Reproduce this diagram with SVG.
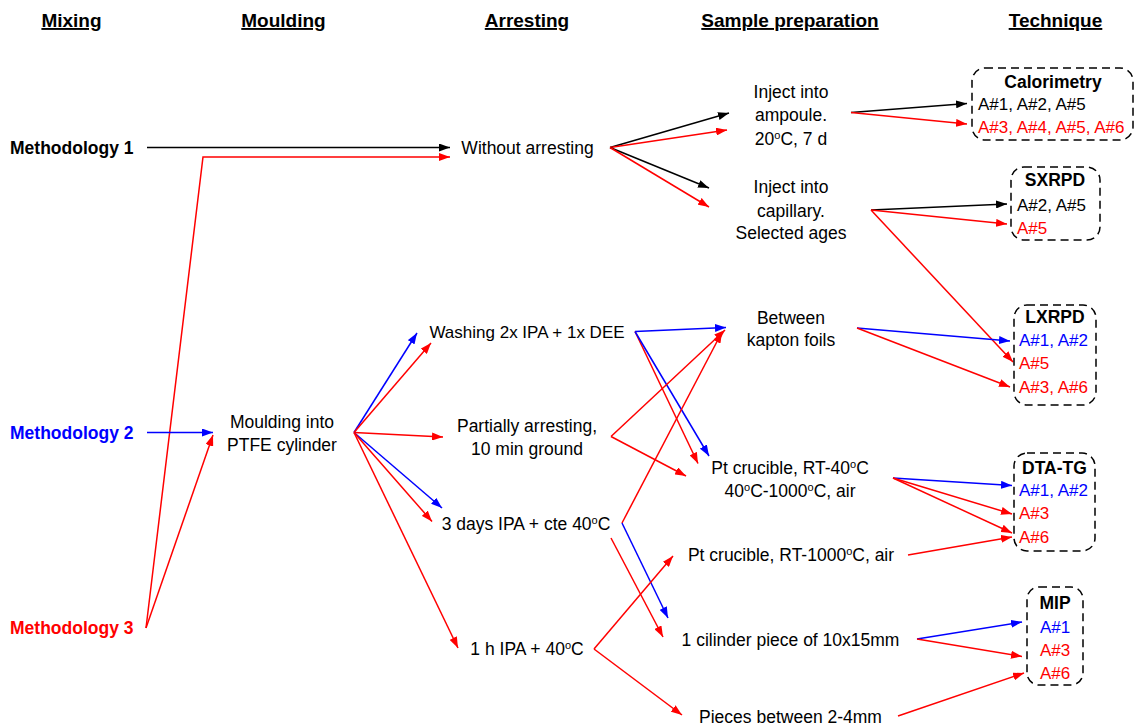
<svg xmlns="http://www.w3.org/2000/svg" width="1135" height="727" viewBox="0 0 1135 727">
<style>
text{font-family:"Liberation Sans",Arial,sans-serif;font-size:17.5px;fill:#000}
.h{font-weight:bold;font-size:19px;text-decoration:underline;text-anchor:middle}
.b{font-weight:bold}
.c{text-anchor:middle}
.r{fill:#FF0000}
.u{fill:#0000FF}
.t{font-size:17px}
.box{fill:none;stroke:#000;stroke-width:1.5;stroke-dasharray:8 5}
.k{stroke:#000;stroke-width:1.5;fill:none;marker-end:url(#ak)}
.rl{stroke:#FF0000;stroke-width:1.5;fill:none;marker-end:url(#ar)}
.bl{stroke:#0000FF;stroke-width:1.5;fill:none;marker-end:url(#ab)}
</style>
<defs>
<marker id="ak" viewBox="0 0 11 8" refX="11" refY="4" markerWidth="11" markerHeight="8" markerUnits="userSpaceOnUse" orient="auto"><path d="M0,0L11,4L0,8z" fill="#000"/></marker>
<marker id="ar" viewBox="0 0 11 8" refX="11" refY="4" markerWidth="11" markerHeight="8" markerUnits="userSpaceOnUse" orient="auto"><path d="M0,0L11,4L0,8z" fill="#FF0000"/></marker>
<marker id="ab" viewBox="0 0 11 8" refX="11" refY="4" markerWidth="11" markerHeight="8" markerUnits="userSpaceOnUse" orient="auto"><path d="M0,0L11,4L0,8z" fill="#0000FF"/></marker>
</defs>
<rect width="1135" height="727" fill="#fff"/>
<g id="headers">
<text class="h" x="71.5" y="27">Mixing</text>
<text class="h" x="283.5" y="27">Moulding</text>
<text class="h" x="527" y="27">Arresting</text>
<text class="h" x="790" y="27">Sample preparation</text>
<text class="h" x="1055.5" y="27">Technique</text>
</g>
<g id="connectors">
<path class="k" d="M147,147.5L450,147.5"/>
<path class="rl" d="M146,628L203,157L450,157"/>
<path class="bl" d="M147,432.5L213,432.5"/>
<path class="rl" d="M146,628L213,435"/>
<path class="bl" d="M354,432.5L417,333"/>
<path class="rl" d="M354,432.5L431,343"/>
<path class="rl" d="M354,432.5L443,437"/>
<path class="bl" d="M354,432.5L442,508"/>
<path class="rl" d="M354,432.5L432,521.5"/>
<path class="rl" d="M354,432.5L458,648"/>
<path class="k" d="M610,147.5L729,113"/>
<path class="rl" d="M610,147.5L727,130"/>
<path class="k" d="M610,147.5L709,188"/>
<path class="rl" d="M610,147.5L709,207"/>
<path class="bl" d="M635,331.5L726,327.5"/>
<path class="rl" d="M635,331.5L698,463.5"/>
<path class="bl" d="M635,331.5L709,456"/>
<path class="rl" d="M611,436.5L725,330"/>
<path class="rl" d="M611,436.5L686,476"/>
<path class="rl" d="M622,523L722,332"/>
<path class="bl" d="M622,523L668,618"/>
<path class="rl" d="M611,538L663,637"/>
<path class="rl" d="M594,649L673,556"/>
<path class="rl" d="M594,649L682,715"/>
<path class="k" d="M851,112.5L967,103.5"/>
<path class="rl" d="M851,112.5L967,124"/>
<path class="k" d="M871,210L1007,204"/>
<path class="rl" d="M871,210L1007,224"/>
<path class="rl" d="M871,210L1013,362"/>
<path class="bl" d="M857,328L1010,341"/>
<path class="rl" d="M857,328L1010,387"/>
<path class="bl" d="M893,478L1012,485.5"/>
<path class="rl" d="M893,478L1012,514"/>
<path class="rl" d="M893,478L1012,533"/>
<path class="rl" d="M908,555L1012,537"/>
<path class="bl" d="M917,639L1022,622"/>
<path class="rl" d="M917,639L1022,656.5"/>
<path class="rl" d="M898,716L1024,673"/>
</g>
<g id="methodology1"><text class="b" x="10" y="154">Methodology 1</text></g>
<g id="methodology2"><text class="b u" x="10" y="439">Methodology 2</text></g>
<g id="methodology3"><text class="b r" x="10" y="634">Methodology 3</text></g>
<g id="moulding"><text class="c" x="282" y="428">Moulding into</text><text class="c" x="282" y="451">PTFE cylinder</text></g>
<g id="without"><text class="c" x="527.5" y="154">Without arresting</text></g>
<g id="washing"><text class="c t" x="527" y="338">Washing 2x IPA + 1x DEE</text></g>
<g id="partially"><text class="c" x="527" y="432">Partially arresting,</text><text class="c" x="527" y="455">10 min ground</text></g>
<g id="threedays"><text class="c" x="526" y="529.5">3 days IPA + cte 40<tspan font-size="11" baseline-shift="super">o</tspan>C</text></g>
<g id="onehour"><text class="c" x="527" y="655">1 h IPA + 40<tspan font-size="11" baseline-shift="super">o</tspan>C</text></g>
<g id="ampoule"><text class="c" x="791" y="97.5">Inject into</text><text class="c" x="791" y="121">ampoule.</text><text class="c" x="791" y="144.5">20<tspan font-size="11" baseline-shift="super">o</tspan>C, 7 d</text></g>
<g id="capillary"><text class="c" x="791" y="193">Inject into</text><text class="c" x="791" y="216.5">capillary.</text><text class="c" x="791" y="239">Selected ages</text></g>
<g id="kapton"><text class="c" x="791" y="324">Between</text><text class="c" x="791" y="346">kapton foils</text></g>
<g id="ptrt40"><text class="c" x="790" y="474">Pt crucible, RT-40<tspan font-size="11" baseline-shift="super">o</tspan>C</text><text class="c" x="790" y="497">40<tspan font-size="11" baseline-shift="super">o</tspan>C-1000<tspan font-size="11" baseline-shift="super">o</tspan>C, air</text></g>
<g id="ptrt1000"><text class="c" x="791" y="561">Pt crucible, RT-1000<tspan font-size="11" baseline-shift="super">o</tspan>C, air</text></g>
<g id="cylinder"><text class="c" x="790.5" y="646">1 cilinder piece of 10x15mm</text></g>
<g id="pieces"><text class="c" x="790.5" y="722.5">Pieces between 2-4mm</text></g>
<g id="calorimetry">
<rect class="box" x="972" y="68" width="161" height="72" rx="13"/>
<text class="b c" x="1053" y="88">Calorimetry</text>
<text class="t" x="978" y="109.5">A#1, A#2, A#5</text>
<text class="r t" x="978" y="132.5">A#3, A#4, A#5, A#6</text>
</g>
<g id="sxrpd">
<rect class="box" x="1011" y="167" width="89" height="73" rx="13"/>
<text class="b c" x="1055" y="186">SXRPD</text>
<text class="t" x="1017" y="211">A#2, A#5</text>
<text class="r t" x="1017" y="234">A#5</text>
</g>
<g id="lxrpd">
<rect class="box" x="1014" y="305" width="82" height="100" rx="13"/>
<text class="b c" x="1055" y="323">LXRPD</text>
<text class="u t" x="1019" y="346">A#1, A#2</text>
<text class="r t" x="1019" y="369">A#5</text>
<text class="r t" x="1019" y="392.5">A#3, A#6</text>
</g>
<g id="dtatg">
<rect class="box" x="1014" y="453" width="81" height="98" rx="13"/>
<text class="b c" x="1054.5" y="474">DTA-TG</text>
<text class="u t" x="1019" y="496">A#1, A#2</text>
<text class="r t" x="1019" y="519">A#3</text>
<text class="r t" x="1019" y="542.5">A#6</text>
</g>
<g id="mip">
<rect class="box" x="1027" y="587" width="56" height="98" rx="12"/>
<text class="b c" x="1055" y="608.5">MIP</text>
<text class="u t" x="1040" y="632.5">A#1</text>
<text class="r t" x="1040" y="656">A#3</text>
<text class="r t" x="1040" y="678.5">A#6</text>
</g>
</svg>
